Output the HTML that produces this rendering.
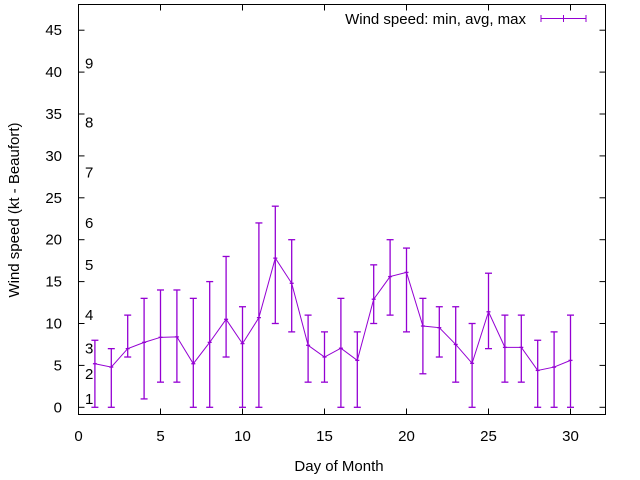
<!DOCTYPE html>
<html><head><meta charset="utf-8"><style>
body{margin:0;background:#fff}
svg{display:block;font-family:"Liberation Sans",sans-serif}
</style></head><body>
<svg id="chart" width="640" height="480" viewBox="0 0 640 480">
<g id="axes"></g>
<g id="marks"></g>
</svg>
<script>
const days=[1,2,3,4,5,6,7,8,9,10,11,12,13,14,15,16,17,18,19,20,21,22,23,24,25,26,27,28,29,30];
const avgSpeed=[5.2,4.8,7.0,7.75,8.35,8.4,5.2,7.75,10.5,7.6,10.7,17.8,14.8,7.4,6.0,7.05,5.6,12.9,15.6,16.1,9.7,9.5,7.5,5.25,11.4,7.15,7.15,4.4,4.8,5.6];
const minSpeed=[0,0,6,1,3,3,0,0,6,0,0,10,9,3,3,0,0,10,11,9,4,6,3,0,7,3,3,0,0,0];
const maxSpeed=[8,7,11,13,14,14,13,15,18,12,22,24,20,11,9,13,9,17,20,19,13,12,12,10,16,11,11,8,9,11];
const xTicks=[0,5,10,15,20,25,30];
const yTicks=[0,5,10,15,20,25,30,35,40,45];
const beaufortLevels=[1,4,7,11,17,22,28,34,41];
const beaufortLabels=["1","2","3","4","5","6","7","8","9"];

const L=78.5,R=605.5,T=4.5,B=414.5;
const x=d=>78.5+d*16.4;
const y=v=>407.3-v*8.38;
const NS="http://www.w3.org/2000/svg";
function mk(parent,tag,attrs,text){const e=document.createElementNS(NS,tag);for(const k in attrs)e.setAttribute(k,attrs[k]);if(text!==undefined)e.textContent=text;parent.appendChild(e);return e;}
const ax=document.getElementById('axes'),mg=document.getElementById('marks');
let e;
e=mk(ax,'rect',{x:L,y:T,width:R-L,height:B-T,fill:'none',stroke:'#000','stroke-width':1});


xTicks.forEach(t=>{
  const px=x(t);
  mk(ax,'line',{x1:px,y1:B,x2:px,y2:B-6,stroke:'#000'});
  mk(ax,'line',{x1:px,y1:T,x2:px,y2:T+6,stroke:'#000'});
  e=mk(ax,'text',{x:px,y:441,'text-anchor':'middle','font-size':15},String(t));
  
  
});
yTicks.forEach(t=>{
  const py=y(t);
  mk(ax,'line',{x1:L,y1:py,x2:L+6,y2:py,stroke:'#000'});
  mk(ax,'line',{x1:R,y1:py,x2:R-6,y2:py,stroke:'#000'});
  e=mk(ax,'text',{x:62,y:py+5,'text-anchor':'end','font-size':15},String(t));
  
  
});
beaufortLevels.forEach((v,i)=>{
  e=mk(ax,'text',{x:85,y:y(v)+5,'font-size':15},beaufortLabels[i]);
  
  
});
e=mk(ax,'text',{x:339,y:471,'text-anchor':'middle','font-size':15},'Day of Month');


e=mk(ax,'text',{x:0,y:0,'text-anchor':'middle','font-size':15,transform:'translate(19,210) rotate(-90)'},'Wind speed (kt - Beaufort)');


// legend
const lg=mk(ax,'g',{});


mk(lg,'text',{x:526,y:24,'text-anchor':'end','font-size':15},'Wind speed: min, avg, max');
mk(lg,'line',{x1:541,y1:18.5,x2:586,y2:18.5,stroke:'#9400d3'});
[541,563.5,586].forEach(px=>mk(lg,'line',{x1:px,y1:15,x2:px,y2:22,stroke:'#9400d3'}));
// series
const pts=days.map((d,i)=>x(d)+','+y(avgSpeed[i])).join(' ');
e=mk(mg,'polyline',{points:pts,fill:'none',stroke:'#9400d3','stroke-width':1});


days.forEach((d,i)=>{
  const g=mk(mg,'g',{stroke:'#9400d3','stroke-width':1.3});
  
  
  const px=x(d);
  mk(g,'line',{x1:px,y1:y(minSpeed[i]),x2:px,y2:y(maxSpeed[i])});
  mk(g,'line',{x1:px-3.5,y1:y(minSpeed[i]),x2:px+3.5,y2:y(minSpeed[i])});
  mk(g,'line',{x1:px-3.5,y1:y(maxSpeed[i]),x2:px+3.5,y2:y(maxSpeed[i])});
  mk(g,'line',{x1:px-2,y1:y(avgSpeed[i]),x2:px+2,y2:y(avgSpeed[i])});
});
</script>
</body></html>
